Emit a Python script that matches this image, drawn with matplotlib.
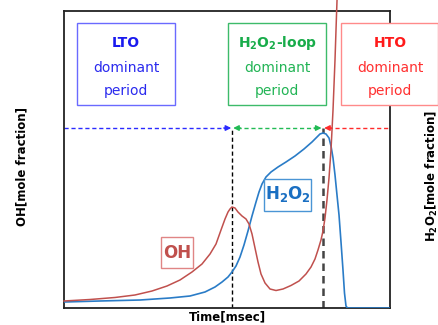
import matplotlib
matplotlib.use("Agg")
import matplotlib.pyplot as plt
from matplotlib.patches import Rectangle

plt.rcParams['font.family'] = ['DejaVu Sans']

# Normalised time (0-100) and mole fractions (0-100 of axis span)
h2o2_t = [0, 11.04, 23.31, 32.52, 38.65, 43.25, 46.32, 48.47, 50.31, 51.53,
          52.76, 53.99, 55.21, 56.44, 57.67, 58.90, 59.82, 60.74, 61.96, 63.50,
          65.64, 68.10, 70.86, 73.62, 76.07, 77.61, 78.53, 79.45, 80.37, 81.29,
          81.90, 82.52, 83.13, 83.74, 84.36, 84.97, 85.58, 86.04, 86.50, 86.96,
          100]
h2o2_v = [2.02, 2.36, 2.69, 3.37, 4.04, 5.39, 7.07, 8.75, 10.44, 12.12,
          14.14, 17.17, 21.21, 25.93, 30.98, 35.69, 39.06, 41.75, 44.11, 45.79,
          47.47, 49.16, 51.18, 53.54, 55.89, 57.58, 58.59, 58.92, 58.59, 57.24,
          54.55, 50.51, 44.78, 38.05, 31.31, 22.22, 12.79, 5.05, 0.67, 0.0,
          0.0]

oh_t = [0, 7.98, 15.64, 21.78, 26.99, 31.60, 35.58, 39.26, 42.33, 44.79,
        46.63, 48.16, 49.39, 50.31, 50.92, 51.53, 52.45, 53.37, 54.60, 55.83,
        56.75, 57.67, 58.59, 59.51, 60.43, 61.66, 63.19, 65.03, 67.18, 69.63,
        72.09, 74.23, 75.77, 76.99, 77.91, 78.83, 79.45, 80.06, 80.67, 81.29,
        81.90, 82.52, 83.13, 83.59, 83.84]
oh_v = [2.36, 2.86, 3.54, 4.38, 5.72, 7.41, 9.43, 12.12, 14.81, 18.18,
        21.55, 26.26, 29.97, 32.32, 33.33, 34.01, 33.67, 32.32, 30.98, 29.97,
        28.28, 24.92, 20.20, 15.49, 11.45, 8.42, 6.40, 5.89, 6.40, 7.58,
        9.09, 11.45, 13.80, 16.50, 19.53, 22.90, 25.93, 30.30, 36.36, 43.77,
        53.20, 66.67, 83.50, 98.65, 106.4]

# Period boundaries (normalised time) and level of the period arrows
t_lto_end = 51.5
t_hto_start = 79.4
arrow_level = 60.6

W, H = 439, 325
fig = plt.figure(figsize=(W / 100, H / 100), dpi=100)
ax = fig.add_axes([64 / W, (H - 308) / H, (390 - 64) / W, (308 - 11) / H])
ax.set_xlim(0, 100)
ax.set_ylim(0, 100)
ax.set_xticks([])
ax.set_yticks([])
for s in ax.spines.values():
    s.set_color('#222222')
    s.set_linewidth(1.3)

red = '#c0504d'
blue = '#2a7cc7'

ax.plot(h2o2_t, h2o2_v, color=blue, lw=1.2, zorder=3)
ax.plot(oh_t, oh_v, color=red, lw=1.1, zorder=3, clip_on=False)

# Period boundaries
ax.plot([t_lto_end, t_lto_end], [0, arrow_level], ls=(0, (3, 2)), color='black', lw=1.0, zorder=2)
ax.plot([t_hto_start, t_hto_start], [0, arrow_level], ls=(0, (3, 2)), color='#444444', lw=1.8, zorder=2)

# Period arrows
c_lto, c_loop, c_hto = '#2b2bff', '#22bb55', '#ff2b2b'
dash = (0, (3, 2))
ax.plot([0, t_lto_end - 1.5], [arrow_level] * 2, ls=dash, color=c_lto, lw=1.0)
ax.plot([t_lto_end + 1.5, t_hto_start - 1.5], [arrow_level] * 2, ls=dash, color=c_loop, lw=1.0)
ax.plot([t_hto_start + 1.5, 100], [arrow_level] * 2, ls=dash, color=c_hto, lw=1.0)

def head(x_tip, x_from, color):
    ax.annotate('', xy=(x_tip, arrow_level), xytext=(x_from, arrow_level),
                arrowprops=dict(arrowstyle='-|>', color=color, lw=1.0,
                                mutation_scale=8, shrinkA=0, shrinkB=0))

head(t_lto_end - 0.2, t_lto_end - 2.5, c_lto)
head(t_lto_end + 0.4, t_lto_end + 2.7, c_loop)
head(t_hto_start - 0.4, t_hto_start - 2.7, c_loop)
head(t_hto_start + 0.4, t_hto_start + 2.7, c_hto)

# Layout helpers in figure pixels (origin top-left)
def px(x, y):
    return x / W, (H - y) / H

def frame(x0, x1, y0, y1, edge):
    fx, fy = px(x0, y1)
    fig.patches.append(Rectangle((fx, fy), (x1 - x0) / W, (y1 - y0) / H,
                                 transform=fig.transFigure, fill=True,
                                 facecolor='white', edgecolor=edge, lw=1.0,
                                 zorder=4))

def period_box(x0, x1, edge, title, title_color, text_color, cx):
    frame(x0, x1, 23, 105, edge)
    fig.text(*px(cx, 47), title, ha='center', va='baseline',
             fontsize=10, fontweight='bold', color=title_color, zorder=5)
    fig.text(*px(cx, 72), 'dominant', ha='center', va='baseline',
             fontsize=10, color=text_color, zorder=5)
    fig.text(*px(cx, 94.5), 'period', ha='center', va='baseline',
             fontsize=10, color=text_color, zorder=5)

period_box(77, 175, '#6a6aff', 'LTO', '#1a1aee', '#2a2aee', 126)
period_box(228, 326, '#3dbb6a', r'H$_\mathbf{2}$O$_\mathbf{2}$-loop', '#18ac4a', '#22b455', 277)
period_box(341, 438.5, '#ff8a8a', 'HTO', '#ff1a1a', '#ff3030', 390)

# Species labels
frame(161, 193, 237, 268, '#e08585')
fig.text(*px(177, 253), 'OH', ha='center', va='center', fontsize=12,
         fontweight='bold', color=red, zorder=5)
frame(264, 311, 179, 211, '#4a95d5')
fig.text(*px(287.5, 194), r'H$_\mathbf{2}$O$_\mathbf{2}$', ha='center', va='center',
         fontsize=12, fontweight='bold', color='#1a6fc2', zorder=5)

# Axis titles
ax.set_xlabel('Time[msec]', fontsize=8.5, fontweight='bold', labelpad=2)
fig.text(*px(22, 166), 'OH[mole fraction]', rotation=90, ha='center', va='center',
         fontsize=8.5, fontweight='bold')
fig.text(*px(432, 176), r'H$_\mathbf{2}$O$_\mathbf{2}$[mole fraction]', rotation=90,
         ha='center', va='center', fontsize=8.5, fontweight='bold')

fig.savefig('out.png', dpi=100)
